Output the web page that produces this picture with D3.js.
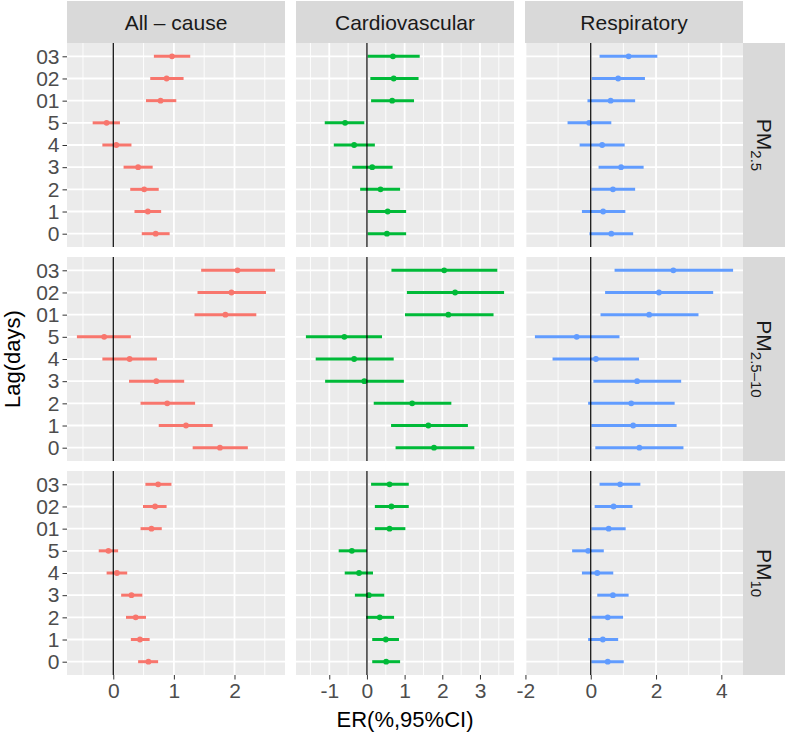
<!DOCTYPE html>
<html>
<head>
<meta charset="utf-8">
<script src="https://cdn.jsdelivr.net/npm/d3@7"></script>
<style>
  body { margin: 0; background: #fff; }
  svg { display: block; font-family: "Liberation Sans", Arial, sans-serif; }
</style>
</head>
<body>
<svg id="chart" width="787" height="735"></svg>
<script>
// ---------------- data ----------------
const lags = ["0", "1", "2", "3", "4", "5", "01", "02", "03"];
const outcomes = ["All \u2013 cause", "Cardiovascular", "Respiratory"];
const pollutants = [
  { main: "PM", sub: "2.5" },
  { main: "PM", sub: "2.5\u201310" },
  { main: "PM", sub: "10" }
];
const outcomeColors = ["#F8766D", "#00BA38", "#619CFF"];
const xTicksAll = [0, 1, 2];
const xTicksCardio = [-1, 0, 1, 2, 3];
const xTicksResp = [-2, 0, 2, 4];

// All-cause
const allPM25_est = [0.70, 0.57, 0.51, 0.41, 0.05, -0.11, 0.78, 0.88, 0.97];
const allPM25_lo  = [0.47, 0.35, 0.28, 0.17, -0.18, -0.34, 0.54, 0.61, 0.67];
const allPM25_hi  = [0.93, 0.79, 0.75, 0.65, 0.30, 0.11, 1.04, 1.16, 1.27];
const allPMc_est  = [1.76, 1.20, 0.89, 0.71, 0.27, -0.15, 1.85, 1.95, 2.05];
const allPMc_lo   = [1.31, 0.75, 0.45, 0.26, -0.18, -0.60, 1.34, 1.39, 1.45];
const allPMc_hi   = [2.22, 1.64, 1.35, 1.17, 0.72, 0.29, 2.36, 2.52, 2.67];
const allPM10_est = [0.58, 0.44, 0.37, 0.30, 0.06, -0.08, 0.63, 0.69, 0.74];
const allPM10_lo  = [0.41, 0.29, 0.21, 0.13, -0.11, -0.24, 0.45, 0.49, 0.53];
const allPM10_hi  = [0.74, 0.60, 0.54, 0.48, 0.23, 0.08, 0.80, 0.88, 0.96];
// Cardiovascular
const cvdPM25_est = [0.53, 0.55, 0.36, 0.14, -0.34, -0.58, 0.67, 0.71, 0.69];
const cvdPM25_lo  = [0.02, 0.02, -0.18, -0.39, -0.88, -1.12, 0.11, 0.09, 0.02];
const cvdPM25_hi  = [1.04, 1.04, 0.88, 0.68, 0.21, -0.07, 1.25, 1.37, 1.40];
const cvdPMc_est  = [1.78, 1.63, 1.20, -0.07, -0.34, -0.60, 2.16, 2.34, 2.05];
const cvdPMc_lo   = [0.76, 0.64, 0.18, -1.11, -1.36, -1.62, 1.01, 1.06, 0.65];
const cvdPMc_hi   = [2.85, 2.68, 2.24, 0.98, 0.71, 0.40, 3.36, 3.64, 3.46];
const cvdPM10_est = [0.51, 0.50, 0.34, 0.05, -0.21, -0.40, 0.60, 0.65, 0.60];
const cvdPM10_lo  = [0.14, 0.14, -0.02, -0.32, -0.59, -0.75, 0.21, 0.21, 0.11];
const cvdPM10_hi  = [0.88, 0.85, 0.72, 0.46, 0.16, 0.00, 1.02, 1.11, 1.11];
// Respiratory
const resPM25_est = [0.63, 0.38, 0.68, 0.93, 0.35, -0.05, 0.61, 0.84, 1.16];
const resPM25_lo  = [-0.04, -0.27, 0.02, 0.24, -0.34, -0.71, -0.10, 0.03, 0.27];
const resPM25_hi  = [1.30, 1.06, 1.36, 1.62, 1.04, 0.63, 1.36, 1.66, 2.04];
const resPMc_est  = [1.49, 1.30, 1.24, 1.42, 0.16, -0.43, 1.79, 2.09, 2.53];
const resPMc_lo   = [0.14, 0.02, -0.08, 0.08, -1.17, -1.71, 0.30, 0.44, 0.73];
const resPMc_hi   = [2.84, 2.63, 2.57, 2.77, 1.48, 0.88, 3.30, 3.75, 4.36];
const resPM10_est = [0.52, 0.37, 0.52, 0.68, 0.20, -0.08, 0.55, 0.70, 0.90];
const resPM10_lo  = [0.02, -0.08, 0.02, 0.20, -0.27, -0.57, 0.02, 0.12, 0.27];
const resPM10_hi  = [1.01, 0.84, 0.99, 1.16, 0.69, 0.40, 1.07, 1.28, 1.52];

// panels[row][col]
const panels = [
  [[allPM25_est, allPM25_lo, allPM25_hi], [cvdPM25_est, cvdPM25_lo, cvdPM25_hi], [resPM25_est, resPM25_lo, resPM25_hi]],
  [[allPMc_est, allPMc_lo, allPMc_hi],    [cvdPMc_est, cvdPMc_lo, cvdPMc_hi],    [resPMc_est, resPMc_lo, resPMc_hi]],
  [[allPM10_est, allPM10_lo, allPM10_hi], [cvdPM10_est, cvdPM10_lo, cvdPM10_hi], [resPM10_est, resPM10_lo, resPM10_hi]]
];
const colTicks = [xTicksAll, xTicksCardio, xTicksResp];

// ---------------- layout ----------------
const svg = d3.select("#chart");
const leftX = 67, panelW = 218, gapX = 11;
const topY = 43, panelH = 204, gapY = 10;
const stripH = 42, stripW = 42;
const colX = i => leftX + i * (panelW + gapX);
const rowY = j => topY + j * (panelH + gapY);
const bottomY = rowY(2) + panelH;
const rightEdge = colX(2) + panelW;

// x scales per column (free x, ggplot 5% expansion)
const xScales = outcomes.map((o, c) => {
  const lo = d3.min(panels, r => d3.min(r[c][1]));
  const hi = d3.max(panels, r => d3.max(r[c][2]));
  const pad = (hi - lo) * 0.05;
  return d3.scaleLinear().domain([lo - pad, hi + pad]).range([colX(c), colX(c) + panelW]);
});
const yScales = [0, 1, 2].map(r =>
  d3.scalePoint().domain(lags).range([rowY(r) + panelH, rowY(r)]).padding(0.6));

// ---------------- panels ----------------
for (let r = 0; r < 3; r++) {
  for (let c = 0; c < 3; c++) {
    const x = xScales[c], y = yScales[r];
    const g = svg.append("g");
    g.append("rect").attr("x", colX(c)).attr("y", rowY(r))
      .attr("width", panelW).attr("height", panelH).attr("fill", "#EBEBEB");
    const majors = colTicks[c];
    const step = majors[1] - majors[0];
    const minors = [];
    for (let v = majors[0] - step / 2; v <= majors[majors.length - 1] + step; v += step) {
      if (v >= x.domain()[0] && v <= x.domain()[1]) minors.push(v);
    }
    g.selectAll(".minor").data(minors).join("line")
      .attr("x1", d => x(d)).attr("x2", d => x(d))
      .attr("y1", rowY(r)).attr("y2", rowY(r) + panelH)
      .attr("stroke", "#fff").attr("stroke-width", 0.9);
    g.selectAll(".major").data(majors).join("line")
      .attr("x1", d => x(d)).attr("x2", d => x(d))
      .attr("y1", rowY(r)).attr("y2", rowY(r) + panelH)
      .attr("stroke", "#fff").attr("stroke-width", 1.8);
    g.selectAll(".hgrid").data(lags).join("line")
      .attr("x1", colX(c)).attr("x2", colX(c) + panelW)
      .attr("y1", d => y(d)).attr("y2", d => y(d))
      .attr("stroke", "#fff").attr("stroke-width", 1.8);

    const [est, lo, hi] = panels[r][c];
    const rows = lags.map((l, i) => ({ lag: l, est: est[i], lo: lo[i], hi: hi[i] }));
    const col = outcomeColors[c];
    g.selectAll(".bar").data(rows).join("line")
      .attr("x1", d => x(d.lo)).attr("x2", d => x(d.hi))
      .attr("y1", d => y(d.lag)).attr("y2", d => y(d.lag))
      .attr("stroke", col).attr("stroke-width", 3);
    g.selectAll(".pt").data(rows).join("circle")
      .attr("cx", d => x(d.est)).attr("cy", d => y(d.lag)).attr("r", 2.9)
      .attr("fill", col);
    g.append("line")
      .attr("x1", x(0)).attr("x2", x(0))
      .attr("y1", rowY(r)).attr("y2", rowY(r) + panelH)
      .attr("stroke", "#000").attr("stroke-width", 1.2);
  }
}

// ---------------- strips ----------------
outcomes.forEach((o, c) => {
  svg.append("rect").attr("x", colX(c)).attr("y", topY - stripH)
    .attr("width", panelW).attr("height", stripH).attr("fill", "#D9D9D9");
  svg.append("text").attr("x", colX(c) + panelW / 2).attr("y", topY - stripH / 2)
    .attr("text-anchor", "middle").attr("dominant-baseline", "central")
    .attr("font-size", 21).attr("fill", "#1A1A1A").text(o);
});
pollutants.forEach((p, r) => {
  const sx = rightEdge, sy = rowY(r);
  svg.append("rect").attr("x", sx).attr("y", sy)
    .attr("width", stripW).attr("height", panelH).attr("fill", "#D9D9D9");
  const t = svg.append("text")
    .attr("transform", `translate(${sx + stripW / 2 - 7},${sy + panelH / 2}) rotate(90)`)
    .attr("text-anchor", "middle").attr("fill", "#1A1A1A").attr("font-size", 21);
  t.append("tspan").text(p.main);
  t.append("tspan").attr("font-size", 15).attr("dy", 6).text(p.sub);
});

// ---------------- axes ----------------
yScales.forEach((y, r) => {
  const ax = svg.append("g").attr("transform", `translate(${leftX},0)`)
    .call(d3.axisLeft(y).tickSize(4.5).tickPadding(3));
  ax.select(".domain").remove();
  ax.selectAll(".tick line").attr("stroke", "#333").attr("stroke-width", 1);
  ax.selectAll(".tick text").attr("font-size", 21).attr("fill", "#4D4D4D")
    .attr("font-family", "Liberation Sans, Arial, sans-serif");
});
xScales.forEach((x, c) => {
  const ax = svg.append("g").attr("transform", `translate(0,${bottomY})`)
    .call(d3.axisBottom(x).tickValues(colTicks[c]).tickFormat(d => String(d)).tickSize(4.5).tickPadding(4));
  ax.select(".domain").remove();
  ax.selectAll(".tick line").attr("stroke", "#333").attr("stroke-width", 1);
  ax.selectAll(".tick text").attr("font-size", 21).attr("fill", "#4D4D4D")
    .attr("font-family", "Liberation Sans, Arial, sans-serif");
});

// titles
svg.append("text").attr("x", (leftX + rightEdge) / 2).attr("y", 727)
  .attr("text-anchor", "middle").attr("font-size", 22).attr("fill", "#000")
  .text("ER(%,95%CI)");
svg.append("text")
  .attr("transform", `translate(20,${(topY + bottomY) / 2}) rotate(-90)`)
  .attr("text-anchor", "middle").attr("font-size", 22).attr("fill", "#000")
  .text("Lag(days)");
</script>
</body>
</html>
